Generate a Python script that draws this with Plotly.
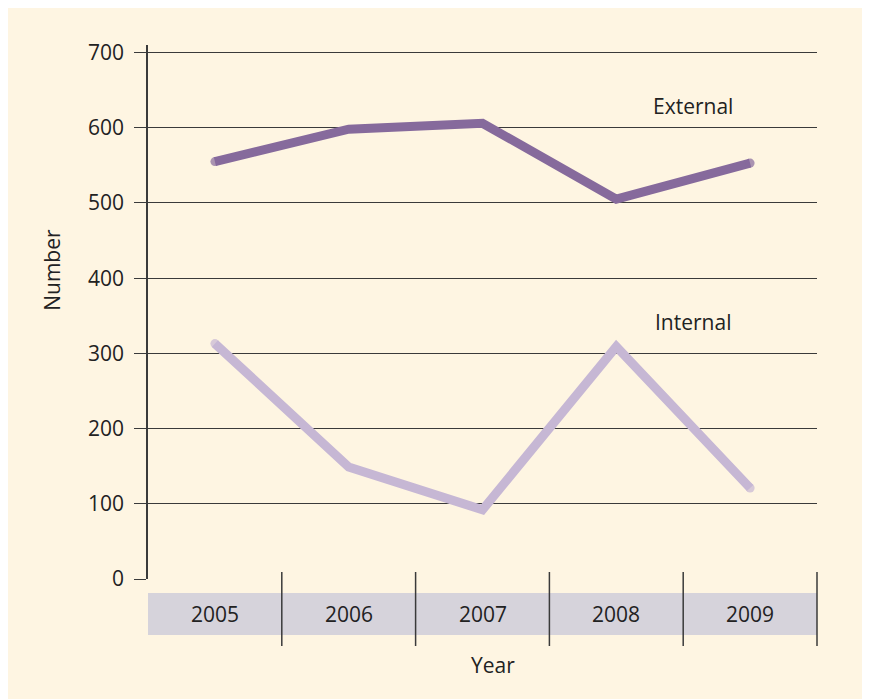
import plotly.graph_objects as go

years = ["2005", "2006", "2007", "2008", "2009"]
external = [555, 598, 606, 505, 553]
internal = [313, 149, 92, 309, 121]
y_ticks = [0, 100, 200, 300, 400, 500, 600, 700]
y_tick_labels = ["0", "100", "200", "300", "400", "500", "600", "700"]

cream = "#FEF5E2"
ink = "#222222"
grid = "#3a3a3a"
font_family = "'Open Sans', Lato, sans-serif"

xpos = list(range(len(years)))
cap_sizes = [9 if i in (0, len(years) - 1) else 0 for i in range(len(years))]

fig = go.Figure()
fig.add_trace(go.Scatter(x=xpos, y=external, mode="lines+markers", name="External",
                         line=dict(color="#866A9C", width=9),
                         marker=dict(size=cap_sizes, color="#866A9C", line=dict(width=0)),
                         showlegend=False, hoverinfo="skip"))
fig.add_trace(go.Scatter(x=xpos, y=internal, mode="lines+markers", name="Internal",
                         line=dict(color="#C6B7D4", width=9),
                         marker=dict(size=cap_sizes, color="#C6B7D4", line=dict(width=0)),
                         showlegend=False, hoverinfo="skip"))

shapes = []
# grey category band
shapes.append(dict(type="rect", xref="paper", yref="paper",
                   x0=0, x1=1, y0=-0.1049, y1=-0.0262,
                   fillcolor="#D6D3DB", line=dict(width=0), layer="below"))
# dividers between categories
n = len(years)
for i in range(1, n + 1):
    shapes.append(dict(type="line", xref="paper", yref="paper",
                       x0=i / n, x1=i / n, y0=-0.1255, y1=0.0131,
                       line=dict(color=grid, width=1.5), layer="above"))

annotations = []
for i, yr in enumerate(years):
    annotations.append(dict(x=i, xref="x", y=-0.0655, yref="paper", text=yr,
                            showarrow=False, font=dict(size=21, color=ink, family=font_family),
                            xanchor="center", yanchor="middle"))
annotations.append(dict(x=0.516, xref="paper", y=-0.161, yref="paper", text="Year",
                        showarrow=False, font=dict(size=21, color=ink, family=font_family),
                        xanchor="center", yanchor="middle"))
annotations.append(dict(x=-0.1435, xref="paper", y=0.579, yref="paper", text="Number",
                        textangle=-90, showarrow=False,
                        font=dict(size=21, color=ink, family=font_family),
                        xanchor="center", yanchor="middle"))
annotations.append(dict(x=3.57, xref="x", y=629, yref="y", text="External",
                        showarrow=False, font=dict(size=21, color=ink, family=font_family),
                        xanchor="center", yanchor="middle"))
annotations.append(dict(x=3.57, xref="x", y=342, yref="y", text="Internal",
                        showarrow=False, font=dict(size=21, color=ink, family=font_family),
                        xanchor="center", yanchor="middle"))

fig.update_layout(
    width=870, height=691,
    autosize=False,
    margin=dict(l=140, r=61, t=37, b=120, pad=0),
    paper_bgcolor=cream,
    plot_bgcolor=cream,
    shapes=shapes,
    annotations=annotations,
    xaxis=dict(range=[-0.5, 4.5], showgrid=False, zeroline=False, showline=False,
               showticklabels=False, ticks="", fixedrange=True),
    yaxis=dict(range=[0, 710], tickvals=y_ticks, ticktext=y_tick_labels,
               showgrid=True, gridcolor=grid, gridwidth=1.3,
               zeroline=False, showline=True, linecolor=grid, linewidth=1.5,
               ticks="outside", ticklen=12, tickcolor=grid, tickwidth=1.3,
               ticklabelstandoff=6,
               tickfont=dict(size=21, color=ink, family=font_family),
               fixedrange=True),
    font=dict(family=font_family, color=ink),
)

fig.write_html("out.html")
